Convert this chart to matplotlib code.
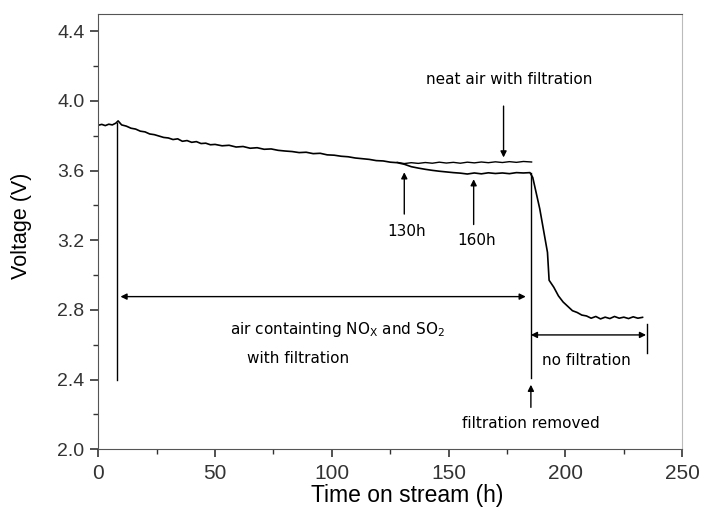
import numpy as np
import matplotlib.pyplot as plt

plt.rcParams['font.family'] = ['Liberation Sans', 'DejaVu Sans']

# main run: air with NOx/SO2, then filtration removed at ~185 h
t_main = [0, 1.5, 3, 4.5, 6, 7.5, 8.5, 10, 12, 14, 16, 18, 20, 22, 24, 26, 28, 30,
          32, 34, 36, 38, 40, 42, 44, 46, 48, 50, 53, 56, 59, 62, 65, 68, 71, 74,
          77, 80, 83, 86, 89, 92, 95, 98, 101, 104, 107, 110, 113, 116, 119, 122,
          125, 128, 131, 134, 137, 140, 143, 146, 149, 152, 155, 158, 161, 164,
          167, 170, 173, 176, 179, 182, 184.8, 186, 189, 192.3, 193, 195, 197,
          199, 201, 203, 205, 207, 209, 211, 213, 215, 217, 219, 221, 223, 225,
          227, 229, 231, 233]
v_main = [3.86, 3.865, 3.858, 3.866, 3.862, 3.872, 3.885, 3.862, 3.855, 3.843, 3.838,
          3.826, 3.822, 3.81, 3.806, 3.798, 3.79, 3.787, 3.778, 3.782, 3.768, 3.772,
          3.762, 3.766, 3.755, 3.757, 3.748, 3.75, 3.742, 3.745, 3.735, 3.738, 3.728,
          3.731, 3.722, 3.724, 3.716, 3.712, 3.709, 3.703, 3.705, 3.697, 3.699, 3.69,
          3.688, 3.682, 3.679, 3.672, 3.668, 3.664, 3.657, 3.655, 3.648, 3.645,
          3.636, 3.622, 3.614, 3.607, 3.601, 3.596, 3.592, 3.588, 3.585, 3.58, 3.586,
          3.581, 3.587, 3.583, 3.586, 3.582, 3.588, 3.586, 3.588, 3.56, 3.38, 3.13,
          2.97, 2.93, 2.88, 2.845, 2.82, 2.795, 2.785, 2.77, 2.765, 2.752, 2.762,
          2.748, 2.758, 2.75, 2.762, 2.752, 2.758, 2.75, 2.76, 2.752, 2.757]

# second run: neat air with filtration from 130 h
t_neat = [128, 131, 134, 137, 140, 143, 146, 149, 152, 155, 158, 161, 164, 167,
          170, 173, 176, 179, 182, 185.5]
v_neat = [3.647, 3.64, 3.645, 3.641, 3.646, 3.642, 3.648, 3.643, 3.647, 3.642,
          3.648, 3.644, 3.649, 3.645, 3.65, 3.646, 3.651, 3.647, 3.652, 3.649]

fig = plt.figure(figsize=(7.07, 5.11), dpi=100)
ax = fig.add_axes([0.139, 0.121, 0.826, 0.852])

ax.plot(t_main, v_main, color='black', lw=1.2)
ax.plot(t_neat, v_neat, color='black', lw=1.0)

ax.set_xlim(0, 250)
ax.set_ylim(2.0, 4.5)
ax.set_xticks([0, 50, 100, 150, 200, 250])
ax.set_xticks(np.arange(25, 250, 50), minor=True)
ax.set_yticks([2.0, 2.4, 2.8, 3.2, 3.6, 4.0, 4.4])
ax.set_yticks([2.2, 2.6, 3.0, 3.4, 3.8, 4.2], minor=True)
ax.yaxis.set_major_formatter(plt.FormatStrFormatter('%.1f'))
ax.tick_params(which='both', direction='out', top=False, right=False,
               colors='#333333')
ax.tick_params(axis='y', labelsize=14, pad=4)
ax.tick_params(axis='x', labelsize=15, pad=5)
ax.tick_params(which='major', length=6, width=1.2)
ax.tick_params(which='minor', length=3.5, width=1.0)
for s in ax.spines.values():
    s.set_color('#555555')
ax.spines['right'].set_color('#bbbbbb')

ax.set_xlabel('Time on stream (h)', fontsize=16.5)
ax.set_ylabel('Voltage (V)', fontsize=15.5)
ax.xaxis.set_label_coords(0.529, -0.079)
ax.yaxis.set_label_coords(-0.113, 0.514)

arr = dict(arrowstyle='-|>', color='black', lw=1.0, mutation_scale=9, shrinkA=0, shrinkB=0)
darr = dict(arrowstyle='<|-|>', color='black', lw=1.0, mutation_scale=9, shrinkA=0, shrinkB=0)
fs = 11
ff = ['DejaVu Sans']

# vertical markers
ax.plot([8, 8], [3.875, 2.4], color='black', lw=1.0)
ax.plot([185.2, 185.2], [3.585, 2.41], color='black', lw=1.0)
ax.plot([235, 235], [2.72, 2.55], color='black', lw=1.0)

ax.annotate('', xy=(9.5, 2.876), xytext=(183, 2.876), arrowprops=darr)
ax.annotate('', xy=(185.2, 2.656), xytext=(234.5, 2.656), arrowprops=darr)
ax.annotate('', xy=(185.2, 2.37), xytext=(185.2, 2.24), arrowprops=arr)
ax.annotate('', xy=(131, 3.59), xytext=(131, 3.35), arrowprops=arr)
ax.annotate('', xy=(160.7, 3.55), xytext=(160.7, 3.29), arrowprops=arr)
ax.annotate('', xy=(173.5, 3.675), xytext=(173.5, 3.97), arrowprops=arr)

ax.text(102.5, 2.69, 'air containting NO$_\\mathregular{X}$ and SO$_\\mathregular{2}$',
        ha='center', va='center', fontsize=fs, family=ff)
ax.text(85.5, 2.52, 'with filtration', ha='center', va='center', fontsize=fs, family=ff)
ax.text(209, 2.51, 'no filtration', ha='center', va='center', fontsize=fs, family=ff)
ax.text(185.2, 2.15, 'filtration removed', ha='center', va='center', fontsize=fs, family=ff)
ax.text(132, 3.25, '130h', ha='center', va='center', fontsize=fs, family=ff)
ax.text(162, 3.20, '160h', ha='center', va='center', fontsize=fs, family=ff)
ax.text(176, 4.12, 'neat air with filtration', ha='center', va='center', fontsize=fs, family=ff)

fig.savefig('out.png', dpi=100)
